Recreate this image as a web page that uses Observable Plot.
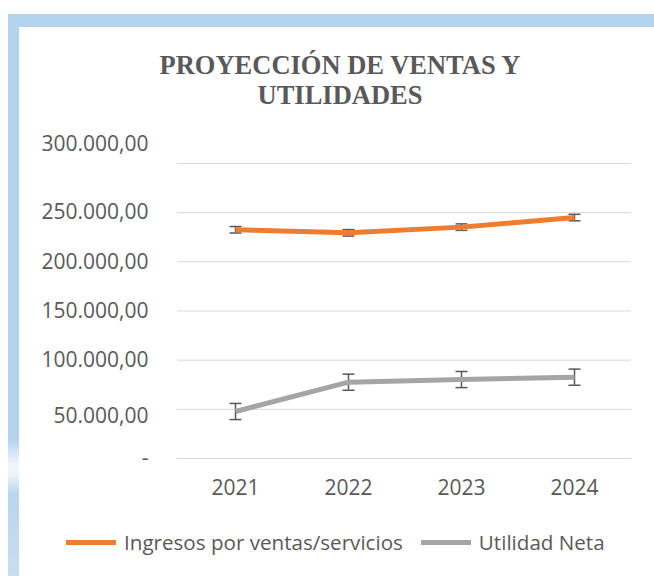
<!DOCTYPE html>
<html>
<head>
<meta charset="utf-8">
<script src="https://cdn.jsdelivr.net/npm/d3@7"></script>
<script src="https://cdn.jsdelivr.net/npm/@observablehq/plot@0.6"></script>
<style>
  html, body { margin: 0; padding: 0; background: #fff; }
  #page { position: relative; width: 654px; height: 576px; overflow: hidden; background: #fff; font-family: "Open Sans", sans-serif; color: #595959; }
  #topbar { position: absolute; left: 8px; top: 14px; width: 646px; height: 13px; background: #b4d3ec; }
  #leftbar { position: absolute; left: 8px; top: 14px; width: 11px; height: 562px;
    background: linear-gradient(to bottom, #b4d3ec 0px, #b4d3ec 425px, #eef5fb 450px, #eef5fb 460px, #b9d6ee 480px, #c7ddf1 562px); }
  #title { position: absolute; left: 140px; width: 400px; top: 50px; text-align: center;
    font-family: "Liberation Serif", "Times New Roman", serif; font-weight: bold; font-size: 26.5px; line-height: 30px; color: #595959; }
  #chart { position: absolute; left: 0; top: 130px; }
  #legend { position: absolute; left: 66px; top: 528px; display: flex; align-items: center; font-size: 20.6px; color: #595959; white-space: nowrap; }
  .sw { width: 50px; height: 5px; margin-right: 8px; }
  .item { display: flex; align-items: center; margin-right: 18px; }
</style>
</head>
<body>
<div id="page">
  <div id="topbar"></div>
  <div id="leftbar"></div>
  <div id="title">PROYECCIÓN DE VENTAS Y<br>UTILIDADES</div>
  <div id="chart"></div>
  <div id="legend"></div>
</div>
<script>
const years = ["2021", "2022", "2023", "2024"];
const ingresos = [232600, 229500, 235300, 245000];
const utilidad = [47800, 77600, 80300, 82700];
const errIngresos = 3300;
const errUtilidad = 8200;
const seriesNames = ["Ingresos por ventas/servicios", "Utilidad Neta"];
const seriesColors = ["#ED7D31", "#A5A5A5"];
const yTicks = [0, 50000, 100000, 150000, 200000, 250000, 300000];

const rows = [];
years.forEach((y, i) => {
  rows.push({year: y, value: ingresos[i], err: errIngresos, series: seriesNames[0]});
  rows.push({year: y, value: utilidad[i], err: errUtilidad, series: seriesNames[1]});
});

const loc = d3.formatLocale({decimal: ",", thousands: ".", grouping: [3], currency: ["", ""]});
const fmt = loc.format(",.2f");
const tickFmt = d => d === 0 ? "-" : fmt(d);

// horizontal cap symbol for error bars
const capSymbol = {
  draw(ctx, size) {
    const w = 6;
    ctx.moveTo(-w, 0);
    ctx.lineTo(w, 0);
  }
};

const axisStyle = {tickSize: 0, tickPadding: 29, tickFormat: tickFmt, fill: "#595959", fontSize: 21, label: null};

const chart = Plot.plot({
  width: 654,
  height: 380,
  marginLeft: 177,
  marginRight: 23,
  marginTop: 33,
  marginBottom: 52,
  style: {fontFamily: "Open Sans", fontSize: "21px", color: "#595959", background: "transparent"},
  x: {type: "point", domain: years, padding: 0.5, label: null},
  y: {domain: [0, 300000], label: null},
  color: {domain: seriesNames, range: seriesColors},
  marks: [
    Plot.gridY(yTicks, {stroke: "#d9d9d9", strokeOpacity: 1, strokeWidth: 1}),
    Plot.axisY([0, 100000, 150000, 200000, 250000], axisStyle),
    Plot.axisY([50000], {...axisStyle, dy: 7}),
    Plot.axisY([300000], {...axisStyle, dy: -19}),
    Plot.axisX(years, {tickSize: 0, tickPadding: 22, fill: "#595959", fontSize: 21, label: null}),
    Plot.ruleX(rows, {x: "year", y1: d => d.value - d.err, y2: d => d.value + d.err, stroke: "#595959", strokeWidth: 1.5}),
    Plot.dot(rows, {x: "year", y: d => d.value - d.err, symbol: capSymbol, fill: "none", stroke: "#595959", strokeWidth: 1.5}),
    Plot.dot(rows, {x: "year", y: d => d.value + d.err, symbol: capSymbol, fill: "none", stroke: "#595959", strokeWidth: 1.5}),
    Plot.line(rows, {x: "year", y: "value", z: "series", stroke: "series", strokeWidth: 5, strokeLinejoin: "round", strokeLinecap: "butt"})
  ]
});
document.getElementById("chart").appendChild(chart);

const legend = document.getElementById("legend");
seriesNames.forEach((name, i) => {
  const item = document.createElement("div");
  item.className = "item";
  const sw = document.createElement("div");
  sw.className = "sw";
  sw.style.background = seriesColors[i];
  const t = document.createElement("span");
  t.textContent = name;
  item.appendChild(sw);
  item.appendChild(t);
  legend.appendChild(item);
});
</script>
</body>
</html>
